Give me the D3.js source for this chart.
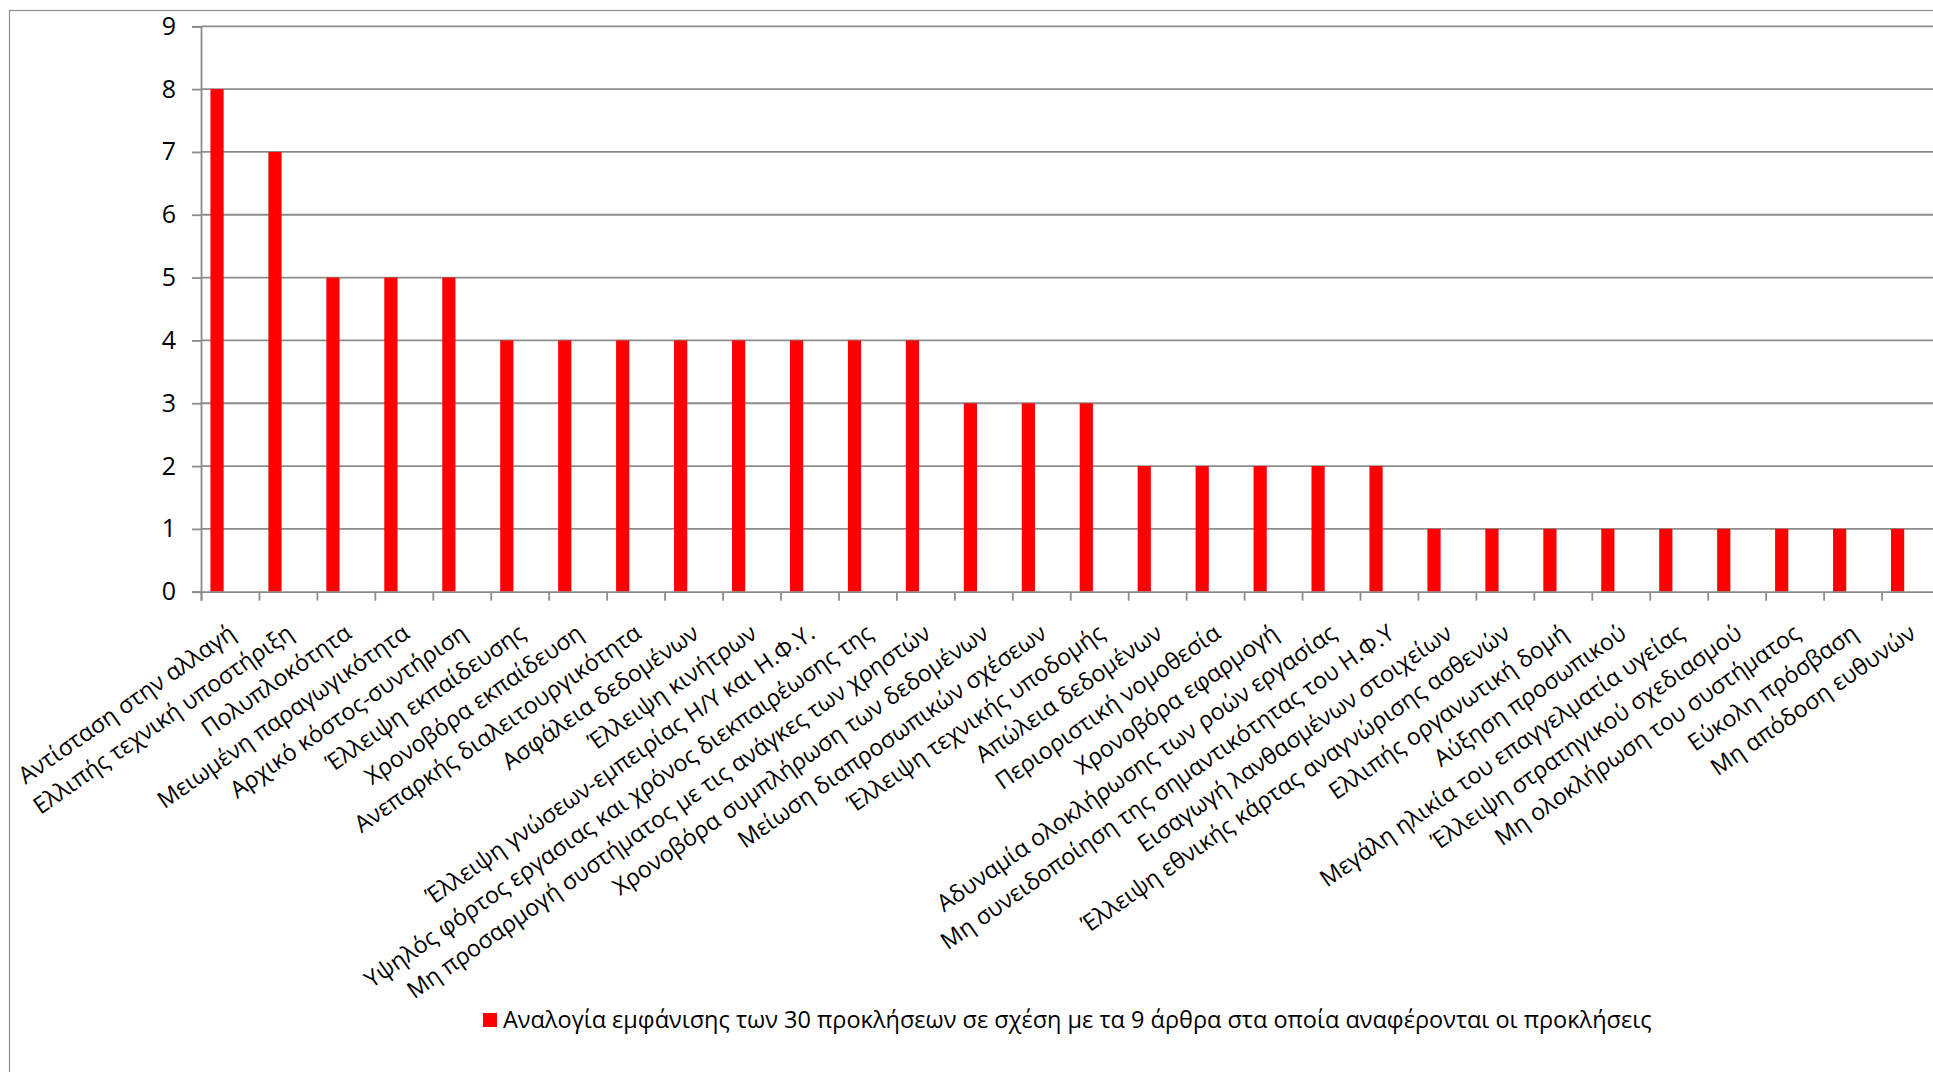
<!DOCTYPE html>
<html>
<head>
<meta charset="utf-8">
<script src="https://cdn.jsdelivr.net/npm/d3@7"></script>
<style>
  html, body { margin: 0; padding: 0; background: #fff; }
  svg { display: block; font-family: "Open Sans", "Noto Sans", sans-serif; }
</style>
</head>
<body>
<svg id="chart" width="1933" height="1072"></svg>
<script>
// Challenges and the number of articles (out of 9) that mention each one
const categories = [
  "Αντίσταση στην αλλαγή",
  "Ελλιπής τεχνική υποστήριξη",
  "Πολυπλοκότητα",
  "Μειωμένη παραγωγικότητα",
  "Αρχικό κόστος-συντήριση",
  "Έλλειψη εκπαίδευσης",
  "Χρονοβόρα εκπαίδευση",
  "Ανεπαρκής διαλειτουργικότητα",
  "Ασφάλεια δεδομένων",
  "Έλλειψη κινήτρων",
  "Έλλειψη γνώσεων-εμπειρίας Η/Υ και Η.Φ.Υ.",
  "Υψηλός φόρτος εργασιας και χρόνος διεκπαιρέωσης της",
  "Μη προσαρμογή συστήματος με τις ανάγκες των χρηστών",
  "Χρονοβόρα συμπλήρωση των δεδομένων",
  "Μείωση διαπροσωπικών σχέσεων",
  "Έλλειψη τεχνικής υποδομής",
  "Απώλεια δεδομένων",
  "Περιοριστική νομοθεσία",
  "Χρονοβόρα εφαρμογή",
  "Αδυναμία ολοκλήρωσης των ροών εργασίας",
  "Μη συνειδοποίηση της σημαντικότητας του Η.Φ.Υ",
  "Εισαγωγή λανθασμένων στοιχείων",
  "Έλλειψη εθνικής κάρτας αναγνώρισης ασθενών",
  "Ελλιπής οργανωτική δομή",
  "Αύξηση προσωπικού",
  "Μεγάλη ηλικία του επαγγελματία υγείας",
  "Έλλειψη στρατηγικού σχεδιασμού",
  "Μη ολοκλήρωση του συστήματος",
  "Εύκολη πρόσβαση",
  "Μη απόδοση ευθυνών"
];
const counts = [8, 7, 5, 5, 5, 4, 4, 4, 4, 4, 4, 4, 4, 3, 3, 3, 2, 2, 2, 2, 2, 1, 1, 1, 1, 1, 1, 1, 1, 1];
const yTicks = [0, 1, 2, 3, 4, 5, 6, 7, 8, 9];
const seriesName = "Αναλογία εμφάνισης των 30 προκλήσεων σε σχέση με τα 9 άρθρα στα οποία αναφέρονται οι προκλήσεις";

const svg = d3.select("#chart");
const gridColor = "#8c8c8c";
const barColor = "#ff0000";

// Plot area
const plot = { left: 201, right: 1939.5, top: 26.3, bottom: 591.7 };

// Outer frame of the chart object
svg.append("rect")
  .attr("x", 9.5).attr("y", 10.5)
  .attr("width", 2000).attr("height", 1200)
  .attr("fill", "none").attr("stroke", "#8f8f8f").attr("stroke-width", 1.2);

const x = d3.scaleBand().domain(categories).range([plot.left, plot.right]).paddingInner(0).paddingOuter(0);
const xEdges = d3.scaleLinear().domain([0, categories.length]).range([plot.left, plot.right]);
const y = d3.scaleLinear().domain([0, 9]).range([plot.bottom, plot.top]);

// Horizontal gridlines
svg.append("g")
  .selectAll("line")
  .data(yTicks.filter(d => d > 0))
  .join("line")
  .attr("x1", plot.left).attr("x2", plot.right)
  .attr("y1", d => y(d)).attr("y2", d => y(d))
  .attr("stroke", gridColor).attr("stroke-width", 1.8);

// Value axis
const yAxis = svg.append("g")
  .attr("transform", `translate(${plot.left},0)`)
  .call(d3.axisLeft(y).tickValues(yTicks).tickSize(9).tickPadding(16).tickFormat(d3.format("d")));
yAxis.select(".domain").attr("stroke", gridColor).attr("stroke-width", 1.8);
yAxis.selectAll(".tick line").attr("stroke", gridColor).attr("stroke-width", 1.8);
yAxis.selectAll(".tick text")
  .attr("font-size", 25).attr("fill", "#000")
  .attr("font-family", "'Open Sans', 'Noto Sans', sans-serif");

// Bars (single series, drawn at the left side of each category slot)
const bw = x.bandwidth();
svg.append("g")
  .selectAll("rect")
  .data(categories.map((c, i) => ({ c, v: counts[i] })))
  .join("rect")
  .attr("x", d => x(d.c) + bw * 0.163)
  .attr("width", bw * 0.228)
  .attr("y", d => y(d.v))
  .attr("height", d => y(0) - y(d.v))
  .attr("fill", barColor);

// Category axis with tick marks on the slot boundaries
const xAxis = svg.append("g")
  .attr("transform", `translate(0,${plot.bottom})`)
  .call(d3.axisBottom(xEdges).tickValues(d3.range(categories.length + 1)).tickSize(9).tickFormat(""));
xAxis.select(".domain").attr("stroke", gridColor).attr("stroke-width", 1.8);
xAxis.selectAll(".tick line").attr("stroke", gridColor).attr("stroke-width", 1.8);

// Rotated category labels
svg.append("g")
  .selectAll("text")
  .data(categories)
  .join("text")
  .attr("transform", d => `translate(${x(d) + bw / 2 + 7},${plot.bottom + 45}) rotate(-35)`)
  .attr("text-anchor", "end")
  .attr("font-size", 23.3)
  .attr("fill", "#000")
  .text(d => d);

// Legend
const legend = svg.append("g").attr("transform", "translate(483,1013)");
legend.append("rect").attr("width", 14).attr("height", 14).attr("fill", barColor);
legend.append("text")
  .attr("x", 20).attr("y", 15)
  .attr("font-size", 23.5).attr("fill", "#000")
  .text(seriesName);
</script>
</body>
</html>
